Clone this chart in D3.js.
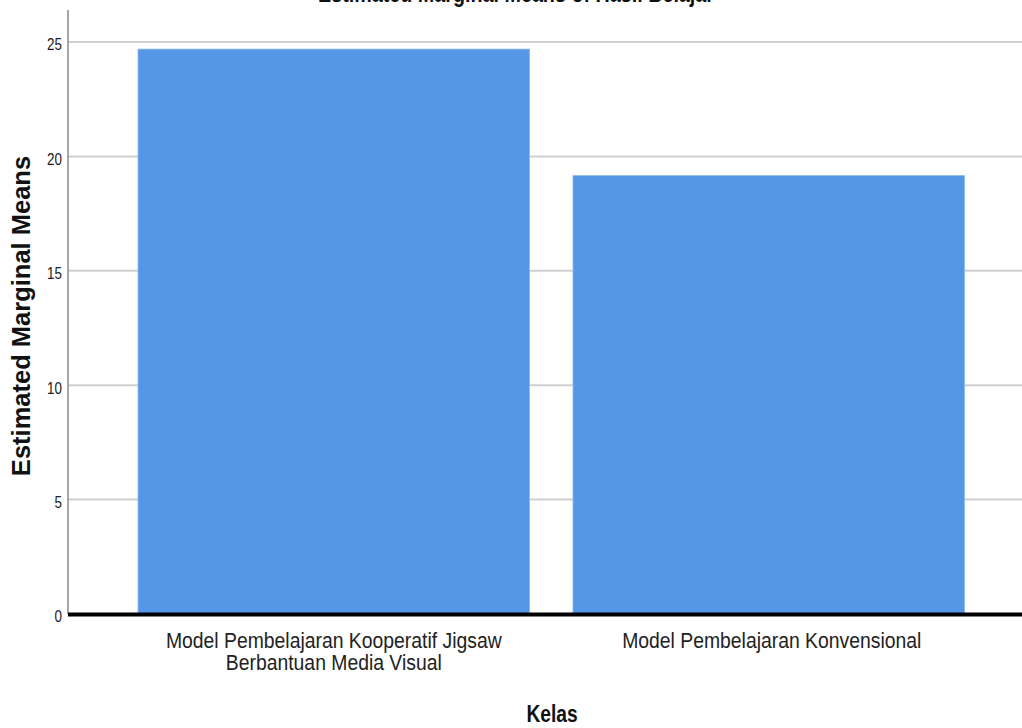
<!DOCTYPE html>
<html>
<head>
<meta charset="utf-8">
<script src="https://cdn.jsdelivr.net/npm/d3@7"></script>
<style>
  html, body { margin: 0; padding: 0; background: #fff; }
  svg { display: block; font-family: "Liberation Sans", Arial, sans-serif; }
</style>
</head>
<body>
<svg id="chart" width="1022" height="728"></svg>
<script>
// ---- data ----
const categories = [
  "Model Pembelajaran Kooperatif Jigsaw\nBerbantuan Media Visual",
  "Model Pembelajaran Konvensional"
];
const means = [24.69, 19.16];
const yTicks = [0, 5, 10, 15, 20, 25];
const chartTitle = "Estimated Marginal Means of Hasil Belajar";
const yTitle = "Estimated Marginal Means";
const xTitle = "Kelas";

// ---- layout ----
const W = 1022, H = 728;
const plot = { left: 68, right: 1034.5, top: 10, bottom: 614 };

const svg = d3.select("#chart");

const x = d3.scaleBand()
  .domain(categories)
  .range([plot.left, plot.right])
  .paddingInner(0.1)
  .paddingOuter(0.161);

const y = d3.scaleLinear()
  .domain([0, 26.4])
  .range([plot.bottom, plot.top]);

// gridlines
svg.append("g")
  .selectAll("line")
  .data(yTicks.filter(d => d > 0))
  .join("line")
  .attr("x1", plot.left)
  .attr("x2", W)
  .attr("y1", d => y(d))
  .attr("y2", d => y(d))
  .attr("stroke", "#cfcfcf")
  .attr("stroke-width", 2);

// bars
svg.append("g")
  .selectAll("rect")
  .data(categories)
  .join("rect")
  .attr("x", d => x(d))
  .attr("width", x.bandwidth())
  .attr("y", (d, i) => y(means[i]))
  .attr("height", (d, i) => y(0) - y(means[i]))
  .attr("fill", "#5596e6")
  .attr("stroke", "#8ab6ee")
  .attr("stroke-width", 0.8);

// y axis line
svg.append("line")
  .attr("x1", plot.left).attr("x2", plot.left)
  .attr("y1", plot.top).attr("y2", plot.bottom)
  .attr("stroke", "#8a8a8a")
  .attr("stroke-width", 1.5);

// y tick labels (condensed)
svg.append("g")
  .selectAll("text")
  .data(yTicks)
  .join("text")
  .attr("transform", d => `translate(62,${y(d) + 8.3}) scale(0.84,1)`)
  .attr("text-anchor", "end")
  .attr("font-size", 16)
  .attr("fill", "#222")
  .text(d => d);

// x axis (thick black baseline)
svg.append("line")
  .attr("x1", plot.left).attr("x2", W)
  .attr("y1", y(0) + 0.5).attr("y2", y(0) + 0.5)
  .attr("stroke", "#000")
  .attr("stroke-width", 4);

// x tick labels
const xl = svg.append("g")
  .selectAll("text")
  .data(categories)
  .join("text")
  .attr("transform", (d, i) => `translate(${x(d) + x.bandwidth() / 2 + (i === 1 ? 3 : 0)},648) scale(0.88,1)`)
  .attr("text-anchor", "middle")
  .attr("font-size", 22)
  .attr("fill", "#222");
xl.selectAll("tspan")
  .data(d => d.split("\n"))
  .join("tspan")
  .attr("x", 0)
  .attr("dy", (d, i) => i === 0 ? 0 : 22)
  .text(d => d);

// chart title (mostly clipped at top, as in the reference)
svg.append("text")
  .attr("transform", `translate(516,2) scale(0.79,1)`)
  .attr("text-anchor", "middle")
  .attr("font-size", 25)
  .attr("font-weight", "bold")
  .attr("fill", "#111")
  .text(chartTitle);

// y axis title
svg.append("text")
  .attr("transform", `translate(29.5,${(plot.top + plot.bottom) / 2 + 4}) rotate(-90)`)
  .attr("text-anchor", "middle")
  .attr("font-size", 25.5)
  .attr("font-weight", "bold")
  .attr("fill", "#111")
  .text(yTitle);

// x axis title
svg.append("text")
  .attr("transform", `translate(552,722) scale(0.8,1)`)
  .attr("text-anchor", "middle")
  .attr("font-size", 24)
  .attr("font-weight", "bold")
  .attr("fill", "#111")
  .text(xTitle);
</script>
</body>
</html>
